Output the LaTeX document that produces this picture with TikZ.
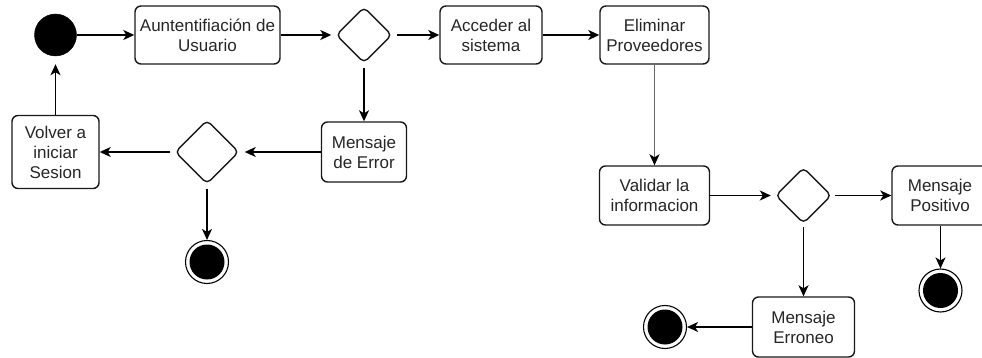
\documentclass[tikz,border=0pt]{standalone}
\usepackage{fontspec}
\setmainfont{Liberation Sans}
\usetikzlibrary{shapes.geometric,arrows.meta}
\begin{document}
\begin{tikzpicture}[x=1pt,y=-1pt,
  every node/.style={text=black!85, font=\fontsize{17}{20}\selectfont},
  act/.style={draw=black!90, line width=1.4pt, rounded corners=6pt, fill=white,
    align=center, inner sep=0pt},
  choice/.style={draw=black!90, line width=1.4pt, diamond, rounded corners=5pt,
    fill=white, inner sep=0pt, minimum width=#1, minimum height=#1},
  startdot/.style={circle, fill=black, draw=black, inner sep=0pt, minimum size=42pt},
  enddot/.style={circle, draw=black, line width=1.1pt, fill=white, inner sep=0pt,
    minimum size=43pt, path picture={\fill[black] (path picture bounding box.center) circle (17.5pt);}},
  flow/.style={draw=black, line width=1.5pt,
    -{Stealth[length=11pt,width=10pt,inset=3pt,color=black]}},
]
\useasboundingbox (0,0) rectangle (982,358);
\clip (0,0) rectangle (982,358);
\fill[white] (0,0) rectangle (982,358);

% activity nodes
\node[startdot] (start) at (55.5,35) {};
\node[act, minimum width=145pt, minimum height=58pt] (auth) at (207.5,35) {Auntentifiación de\\Usuario};
\node[choice=56pt] (d1) at (364,35) {};
\node[act, minimum width=85pt, minimum height=60pt] (err) at (364,152) {Mensaje\\de Error};
\node[choice=64pt] (d2) at (207,152) {};
\node[act, minimum width=87pt, minimum height=73pt] (volver) at (55.5,152) {Volver a\\iniciar\\Sesion};
\node[enddot] (end1) at (207,262) {};
\node[act, minimum width=102pt, minimum height=58pt] (acc) at (491,35) {Acceder al\\sistema};
\node[act, minimum width=109pt, minimum height=58pt] (elim) at (654.5,35) {Eliminar\\Proveedores};
\node[act, minimum width=110pt, minimum height=59pt] (valid) at (654.5,195.5) {Validar la\\informacion};
\node[choice=56pt] (d3) at (803.5,195.5) {};
\node[act, minimum width=96pt, minimum height=59pt] (pos) at (940,195.5) {Mensaje\\Positivo};
\node[enddot] (end2) at (940.5,290.5) {};
\node[act, minimum width=102pt, minimum height=60pt] (erron) at (803.5,327) {Mensaje\\Erroneo};
\node[enddot] (end3) at (665,327) {};

% control flows
\draw[flow] (start) -- (auth);
\draw[flow, shorten >=4pt] (auth) -- (d1);
\draw[flow, shorten <=4pt] (d1) -- (acc);
\draw[flow, shorten <=4pt] (d1) -- (err);
\draw[flow] (acc) -- (elim);
\draw[flow, draw=black!60] (elim) -- (valid);
\draw[flow, shorten >=5pt] (err) -- (d2);
\draw[flow, shorten <=4pt] (d2) -- (volver);
\draw[flow, shorten <=4pt] (d2) -- (end1);
\draw[flow, shorten >=8pt] (volver) -- (start);
\draw[flow, shorten >=4pt] (valid) -- (d3);
\draw[flow, shorten <=3pt] (d3) -- (pos);
\draw[flow, shorten <=3pt] (d3) -- (erron);
\draw[flow] (pos.south -| end2) -- (end2);
\draw[flow] (erron) -- (end3);
\end{tikzpicture}
\end{document}
